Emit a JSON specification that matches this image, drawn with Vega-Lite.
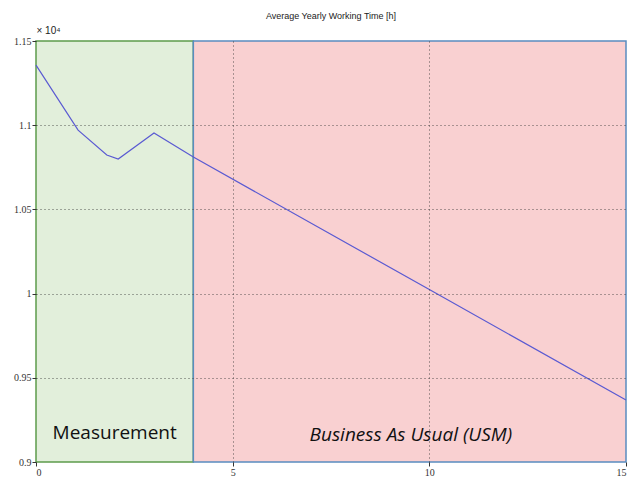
{
  "$schema": "https://vega.github.io/schema/vega-lite/v6.json",
  "width": 590,
  "height": 421,
  "autosize": {"type": "none"},
  "padding": {"left": 36, "top": 41, "right": 8, "bottom": 17},
  "background": "white",
  "config": {"view": {"stroke": null}, "font": "Liberation Sans"},
  "title": {"text": "Average Yearly Working Time [h]", "fontSize": 9, "fontWeight": "normal", "color": "#222", "offset": 4, "anchor": "middle"},
  "datasets": {
    "phases": [
      {"start": 0, "end": 4, "phase": "Measurement"},
      {"start": 4, "end": 15, "phase": "Business As Usual (USM)"}
    ],
    "series": [
      {"year": 0, "hours": 11357},
      {"year": 1.07, "hours": 10971},
      {"year": 1.8, "hours": 10823},
      {"year": 2.09, "hours": 10799},
      {"year": 3.0, "hours": 10954},
      {"year": 4.0, "hours": 10811},
      {"year": 10.0, "hours": 10024},
      {"year": 15.0, "hours": 9368}
    ],
    "labels": [
      {"x": 2.0, "y": 9170, "label": "Measurement", "style": "normal"},
      {"x": 9.53, "y": 9160, "label": "Business As Usual (USM)", "style": "italic"}
    ]
  },
  "layer": [
    {
      "data": {"name": "phases"},
      "mark": {"type": "rect", "strokeWidth": 1.5},
      "encoding": {
        "x": {"field": "start", "type": "quantitative", "scale": {"domain": [0, 15], "nice": false, "zero": false},
          "axis": {"values": [0, 5, 10, 15], "grid": true, "gridDash": [1, 3], "gridColor": "#333",
            "gridOpacity": {"condition": {"test": "datum.value == 0 || datum.value == 15", "value": 0}, "value": 0.8},
            "domain": false, "tickSize": 4, "tickColor": "#333", "labelFontSize": 10, "labelColor": "#333", "labelPadding": 1, "title": null, "zindex": 1, "labelFont": "Liberation Sans Narrow"}},
        "x2": {"field": "end"},
        "y": {"datum": 9000, "type": "quantitative", "scale": {"domain": [9000, 11500], "nice": false, "zero": false},
          "axis": {"values": [9000, 9500, 10000, 10500, 11000, 11500], "labelExpr": "format(datum.value/10000, '')", "grid": true, "gridDash": [1, 3], "gridColor": "#333",
            "gridOpacity": {"condition": {"test": "datum.value == 9000 || datum.value == 11500", "value": 0}, "value": 0.8},
            "domain": false, "tickSize": 4, "tickColor": "#333", "labelFontSize": 10, "labelColor": "#333", "labelPadding": 1, "zindex": 1, "labelFont": "Liberation Sans Narrow",
            "title": "× 10⁴", "titleAngle": 0, "titleX": 0, "titleY": -6, "titleAlign": "left", "titleBaseline": "bottom", "titleFontSize": 10, "titleFontWeight": "normal", "titleColor": "#222"}},
        "y2": {"datum": 11500},
        "fill": {"field": "phase", "type": "nominal", "scale": {"domain": ["Measurement", "Business As Usual (USM)"], "range": ["#e2efdb", "#f9d0d1"]}, "legend": null},
        "stroke": {"field": "phase", "type": "nominal", "scale": {"domain": ["Measurement", "Business As Usual (USM)"], "range": ["#5e9c4c", "#5a8cc0"]}, "legend": null}
      }
    },
    {
      "data": {"name": "series"},
      "mark": {"type": "line", "color": "#5a5ad2", "strokeWidth": 1.2},
      "encoding": {
        "x": {"field": "year", "type": "quantitative"},
        "y": {"field": "hours", "type": "quantitative"}
      }
    },
    {
      "data": {"name": "labels"},
      "transform": [{"filter": "datum.style == 'normal'"}],
      "mark": {"type": "text", "fontSize": 19, "font": "Open Sans", "color": "#111", "align": "center", "baseline": "middle"},
      "encoding": {
        "x": {"field": "x", "type": "quantitative"},
        "y": {"field": "y", "type": "quantitative"},
        "text": {"field": "label"}
      }
    },
    {
      "data": {"name": "labels"},
      "transform": [{"filter": "datum.style == 'italic'"}],
      "mark": {"type": "text", "fontSize": 19, "font": "Open Sans", "fontStyle": "italic", "color": "#111", "align": "center", "baseline": "middle"},
      "encoding": {
        "x": {"field": "x", "type": "quantitative"},
        "y": {"field": "y", "type": "quantitative"},
        "text": {"field": "label"}
      }
    }
  ]
}
